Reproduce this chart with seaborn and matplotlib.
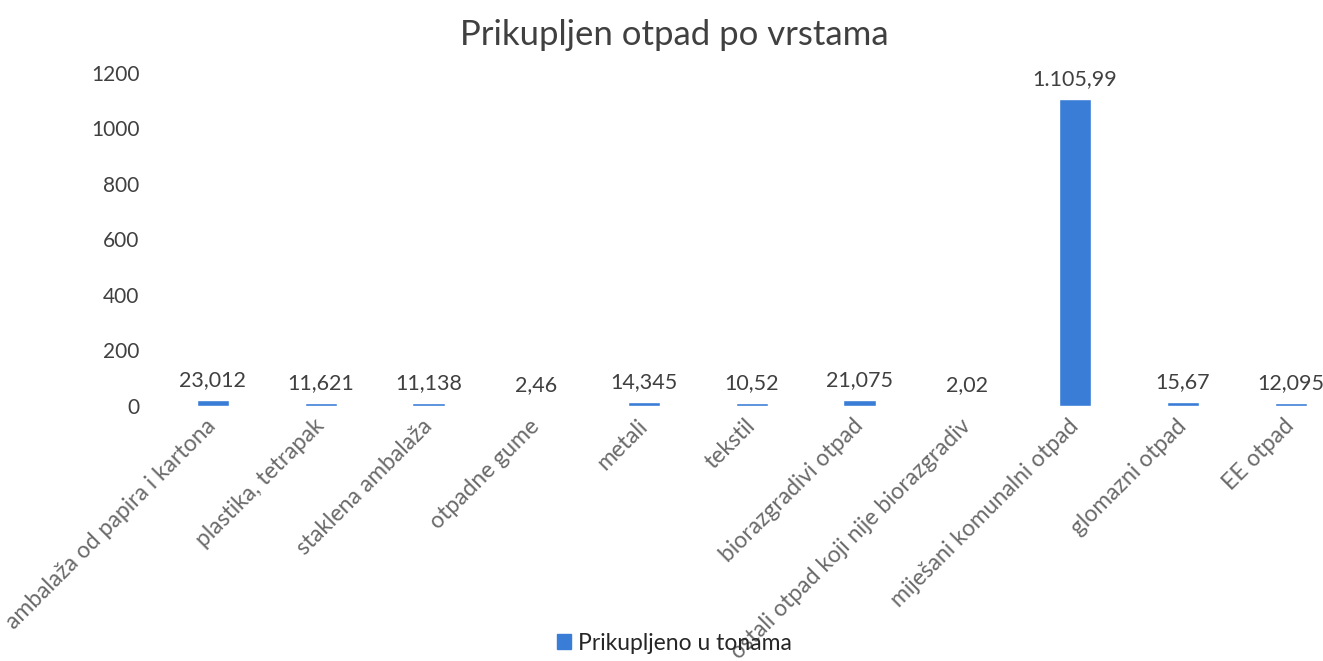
import matplotlib
matplotlib.use("Agg")
import matplotlib.pyplot as plt
import seaborn as sns
import pandas as pd
from matplotlib.patches import Patch

categories = [
    "ambalaža od papira i kartona",
    "plastika, tetrapak",
    "staklena ambalaža",
    "otpadne gume",
    "metali",
    "tekstil",
    "biorazgradivi otpad",
    "ostali otpad koji nije biorazgradiv",
    "miješani komunalni otpad",
    "glomazni otpad",
    "EE otpad",
]
values = [23.012, 11.621, 11.138, 2.46, 14.345, 10.52, 21.075, 2.02, 1105.99, 15.67, 12.095]
series_name = "Prikupljeno u tonama"
title = "Prikupljen otpad po vrstama"
yticks = [0, 200, 400, 600, 800, 1000, 1200]

def fmt(v):
    s = f"{v:,}"
    return s.replace(",", "X").replace(".", ",").replace("X", ".")

sns.set_theme(style="white")
plt.rcParams["font.family"] = ["Lato", "DejaVu Sans"]

df = pd.DataFrame({"kategorija": categories, "vrijednost": values})
color = "#3a7dd6"
text_color = "#404040"

fig = plt.figure(figsize=(13.23, 6.61), dpi=100)
ax = fig.add_axes([0.1202, 0.3858, 0.8798, 0.5038])
sns.barplot(data=df, x="kategorija", y="vrijednost", color=color, width=0.3,
            ax=ax, saturation=1)
ax.set_xlim(-0.5, 10.3)
ax.set_ylim(0, 1200)
ax.set_yticks(yticks)
ax.set_yticklabels([str(t) for t in yticks], fontsize=15, color=text_color)
ax.set_xlabel("")
ax.set_ylabel("")
for s in ax.spines.values():
    s.set_visible(False)
ax.tick_params(axis="both", length=0, pad=14)
ax.tick_params(axis="x", pad=12)
ax.set_xticks(range(len(categories)))
ax.set_xticklabels(categories, rotation=45, ha="right", va="center",
                   rotation_mode="anchor", fontsize=16.5, color="#6a6a6a")

for i, v in enumerate(values):
    ax.annotate(fmt(v), (i, v), xytext=(0, 10), textcoords="offset pixels",
                ha="center", va="bottom", fontsize=15.5, color=text_color)

fig.text(0.51, 0.972, title, ha="center", va="top", fontsize=25, color=text_color)

handle = Patch(facecolor=color, edgecolor=color)
fig.legend([handle], [series_name], loc="lower center", bbox_to_anchor=(0.51, -0.02),
           frameon=False, fontsize=16.5, handlelength=0.6, handleheight=0.6,
           handletextpad=0.3, labelcolor="#262626")

fig.savefig("out.png", dpi=100)
